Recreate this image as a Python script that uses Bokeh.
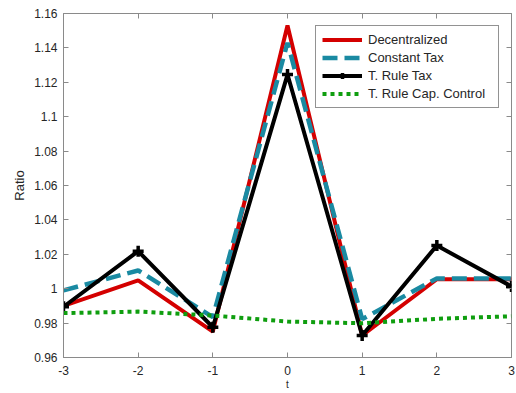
from bokeh.plotting import figure
from bokeh.models import FixedTicker, LinearAxis, Range1d
from bokeh.embed import file_html
from bokeh.resources import INLINE

# ---- data ----
t = [-3, -2, -1, 0, 1, 2, 3]
decentralized = [0.990, 1.0048, 0.9751, 1.153, 0.9728, 1.0055, 1.0055]
constant_tax = [0.999, 1.0106, 0.9835, 1.143, 0.9823, 1.0060, 1.0060]
rule_tax = [0.9895, 1.0218, 0.9776, 1.1245, 0.9728, 1.0251, 1.0013]
rule_cap_control = [0.9858, 0.9867, 0.9844, 0.9809, 0.9799, 0.9825, 0.9840]

x_ticks = [-3, -2, -1, 0, 1, 2, 3]
x_tick_labels = ["-3", "-2", "-1", "0", "1", "2", "3"]
y_ticks = [0.96, 0.98, 1.0, 1.02, 1.04, 1.06, 1.08, 1.1, 1.12, 1.14, 1.16]
y_tick_labels = ["0.96", "0.98", "1", "1.02", "1.04", "1.06", "1.08", "1.1",
                 "1.12", "1.14", "1.16"]

FONT = "Liberation Sans"
TXT = "#262626"
AX = "#8a8a8a"

p = figure(width=516, height=393, output_backend="svg", toolbar_location=None,
           x_range=Range1d(-3, 3), y_range=Range1d(0.96, 1.16),
           min_border_left=63, min_border_right=5, min_border_top=13,
           min_border_bottom=36)
p.background_fill_color = "white"
p.border_fill_color = "white"
p.outline_line_color = AX
p.outline_line_width = 1
p.xgrid.visible = False
p.ygrid.visible = False

p.line(t, decentralized, line_color="#d40000", line_width=4,
       legend_label="Decentralized")
p.line(t, constant_tax, line_color="#1a8aa2", line_width=4.5,
       line_dash="15 7", legend_label="Constant Tax")
p.line(t, rule_tax, line_color="black", line_width=4,
       legend_label="T. Rule Tax")
p.scatter(t, rule_tax, marker="cross", size=11, line_width=3.5,
          line_color="black", legend_label="T. Rule Tax")
p.line(t, rule_cap_control, line_color="#0f9e0f", line_width=4,
       line_dash="4 4", legend_label="T. Rule Cap. Control")

# axes
for ax in (p.xaxis[0], p.yaxis[0]):
    ax.axis_line_color = AX
    ax.major_tick_line_color = AX
    ax.major_tick_in = 5
    ax.major_tick_out = 0
    ax.minor_tick_line_color = None
    ax.major_label_text_font = FONT
    ax.major_label_text_font_size = "12px"
    ax.major_label_text_color = TXT

p.xaxis.ticker = FixedTicker(ticks=x_ticks)
p.xaxis.major_label_overrides = dict(zip(x_ticks, x_tick_labels))
p.xaxis.major_label_standoff = 8
p.xaxis.axis_label = "t"
p.xaxis.axis_label_text_font = FONT
p.xaxis.axis_label_text_font_size = "10px"
p.xaxis.axis_label_text_font_style = "normal"
p.xaxis.axis_label_text_color = TXT
p.xaxis.axis_label_standoff = 1

p.yaxis.ticker = FixedTicker(ticks=y_ticks)
p.yaxis.major_label_overrides = dict(zip(y_ticks, y_tick_labels))
p.yaxis.major_label_standoff = 6
p.yaxis.axis_label = "Ratio"
p.yaxis.axis_label_text_font = FONT
p.yaxis.axis_label_text_font_size = "13px"
p.yaxis.axis_label_text_font_style = "normal"
p.yaxis.axis_label_text_color = TXT
p.yaxis.axis_label_standoff = 4

# mirrored ticks on top and right (labels not painted)
top = LinearAxis(ticker=FixedTicker(ticks=x_ticks), axis_line_color=None,
                 major_tick_line_color=AX, major_tick_in=5, major_tick_out=0,
                 minor_tick_line_color=None, major_label_text_font_size="1px",
                 major_label_text_color=None, major_label_standoff=0)
right = LinearAxis(ticker=FixedTicker(ticks=y_ticks), axis_line_color=None,
                   major_tick_line_color=AX, major_tick_in=5, major_tick_out=0,
                   minor_tick_line_color=None, major_label_text_font_size="1px",
                   major_label_text_color=None, major_label_standoff=0)
p.add_layout(top, "above")
p.add_layout(right, "right")

# legend
lg = p.legend[0]
lg.location = "top_right"
lg.margin = 12
lg.padding = 6
lg.spacing = 3
lg.glyph_width = 40
lg.glyph_height = 15
lg.label_height = 15
lg.label_width = 124
lg.label_standoff = 6
lg.label_text_font = FONT
lg.label_text_font_size = "13px"
lg.label_text_color = TXT
lg.border_line_color = "#262626"
lg.border_line_width = 1
lg.background_fill_color = "white"
lg.background_fill_alpha = 1.0

open("out.html", "w").write(file_html(p, INLINE))
